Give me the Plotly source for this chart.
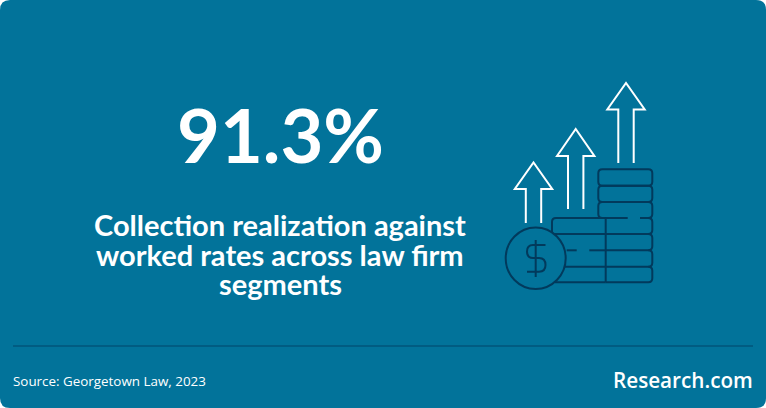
import plotly.graph_objects as go

W = 766
H = 408
BG = "#02739a"
DARK = "#023a5c"
WHITE = "#ffffff"

headline = "91.3%"
caption_lines = ["Collection realization against", "worked rates across law firm", "segments"]
source_text = "Source: Georgetown Law, 2023"
brand_text = "Research.com"


def rounded_rect(x0, y0, x1, y1, r):
    return (f"M{x0+r},{y0} L{x1-r},{y0} Q{x1},{y0} {x1},{y0+r} L{x1},{y1-r} Q{x1},{y1} {x1-r},{y1} "
            f"L{x0+r},{y1} Q{x0},{y1} {x0},{y1-r} L{x0},{y0+r} Q{x0},{y0} {x0+r},{y0} Z")


def arrow_path(cx, top, wing_y, bottom, half_wing=18.7, half_shaft=7.7):
    return (f"M{cx-half_shaft},{bottom} L{cx-half_shaft},{wing_y} L{cx-half_wing},{wing_y} L{cx},{top} "
            f"L{cx+half_wing},{wing_y} L{cx+half_shaft},{wing_y} L{cx+half_shaft},{bottom}")


shapes = []


def add_path(path, color, width=2, fill=None):
    shapes.append(dict(type="path", path=path, line=dict(color=color, width=width),
                       fillcolor=fill if fill else "rgba(0,0,0,0)"))


# background card and divider
add_path(rounded_rect(0, 0, W, H, 10), BG, 0, BG)
shapes.append(dict(type="line", x0=13, x1=753, y0=346, y1=346, line=dict(color="#02557a", width=1.5)))

# arrows
add_path(arrow_path(626, 83, 109.5, 163), WHITE)
add_path(arrow_path(575.7, 129, 156, 209), WHITE)
add_path(arrow_path(533.5, 162.5, 189, 223), WHITE)

# right coin stack
add_path(rounded_rect(598.3, 169.3, 652.3, 185.7, 4), DARK)
add_path(rounded_rect(598.3, 185.7, 652.3, 202, 4), DARK)
add_path("M627.7,218 L602.3,218 Q598.3,218 598.3,214 L598.3,206 Q598.3,202 602.3,202 "
         "L648.3,202 Q652.3,202 652.3,206 L652.3,214 Q652.3,218 648.3,218 L640,218", DARK)
for y0, y1 in [(218, 234), (234, 250.3), (250.3, 266.7), (266.7, 282.3)]:
    add_path(f"M648.3,{y0} Q652.3,{y0} 652.3,{y0+4} L652.3,{y1-4} Q652.3,{y1} 648.3,{y1} L605.7,{y1}", DARK)

# middle coin stack, its rows run behind the big coin
add_path("M605.7,218 L556,218 Q552,218 552,222 L552,234", DARK)
add_path("M605.7,218 L605.7,282.3", DARK)
add_path("M553,234 L605.7,234", DARK)
add_path("M566.7,250.3 L576.7,250.3", DARK)
add_path("M589.3,250.3 L605.7,250.3", DARK)
add_path("M563,266.7 L605.7,266.7", DARK)
add_path("M555,282.3 L605.7,282.3", DARK)

# big coin with dollar sign
shapes.append(dict(type="circle", x0=505.7, x1=565.7, y0=227.5, y1=289,
                   line=dict(color=DARK, width=2), fillcolor=BG))
add_path("M535.7,240 L535.7,277", DARK)
add_path("M545.5,245 L533,245 Q527,245 527,251.5 Q527,258 533,258 L539,258 "
         "Q545.5,258 545.5,265 Q545.5,271.7 539,271.7 L527,271.7", DARK)

fig = go.Figure()
fig.update_xaxes(range=[0, W], visible=False, fixedrange=True)
fig.update_yaxes(range=[H, 0], visible=False, fixedrange=True)


def add_text(text, x, y, size, family, weight, anchor="center"):
    fig.add_annotation(x=x, y=y, text=text, showarrow=False, xanchor=anchor, yanchor="middle",
                       font=dict(family=family, size=size, color=WHITE, weight=weight))


add_text(headline, 280, 134.5, 74, "Lato", 700)
for line, y in zip(caption_lines, [224.5, 254, 283.5]):
    add_text(line, 280, y, 29, "Lato", 700)
add_text(source_text, 11, 381, 13.4, "Open Sans", 500, "left")
add_text(brand_text, 755, 380, 20.7, "Open Sans", 600, "right")

fig.update_layout(width=W, height=H, margin=dict(l=0, r=0, t=0, b=0), autosize=False,
                  paper_bgcolor="white", plot_bgcolor="white", shapes=shapes, showlegend=False)

fig.write_html("out.html", config={"displayModeBar": False},
               post_script="document.body.style.margin='0';")
